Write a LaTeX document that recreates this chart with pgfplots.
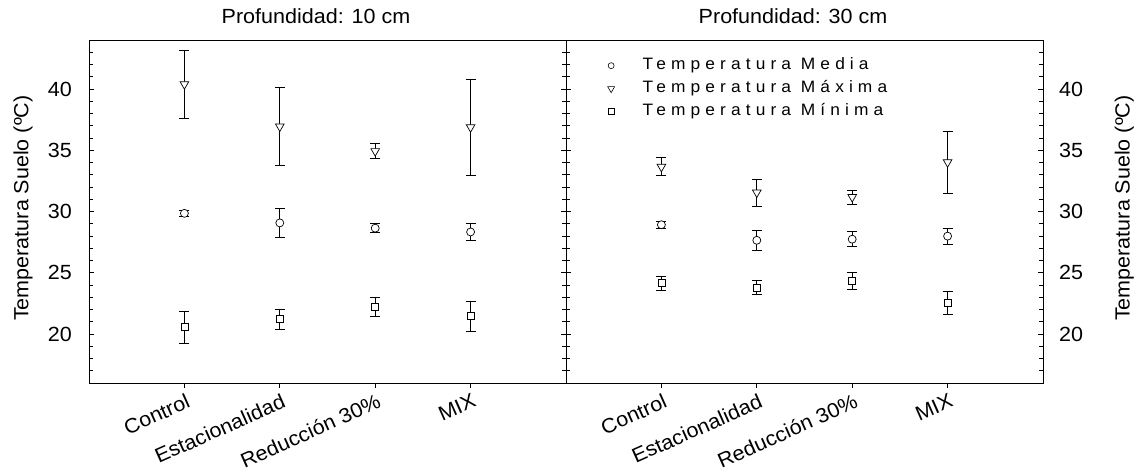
\documentclass[border=0pt]{standalone}
\usepackage{fontspec}
\setmainfont{Liberation Sans}[FakeStretch=1.05]
\newfontfamily\legfont{Liberation Sans}[LetterSpace=31,FakeStretch=1.05]
\usepackage{pgfplots}
\pgfplotsset{compat=1.18}
\usepackage{pgfplotstable}

\pgfplotstableread{
x y e
1 40.39 2.77
2 36.94 3.16
3 34.93 0.60
4 36.88 3.94
}\LMax
\pgfplotstableread{
x y e
1 29.85 0.25
2 29.07 1.22
3 28.64 0.35
4 28.33 0.67
}\LMed
\pgfplotstableread{
x y e
1 20.55 1.30
2 21.21 0.80
3 22.18 0.78
4 21.45 1.21
}\LMin
\pgfplotstableread{
x y e
1 33.65 0.73
2 31.55 1.11
3 31.18 0.57
4 34.02 2.54
}\RMax
\pgfplotstableread{
x y e
1 28.92 0.27
2 27.65 0.82
3 27.74 0.61
4 27.99 0.67
}\RMed
\pgfplotstableread{
x y e
1 24.15 0.58
2 23.79 0.58
3 24.34 0.70
4 22.55 0.94
}\RMin

\newcommand{\bigf}{\fontsize{20.5}{24}\selectfont}

\pgfplotsset{
 panel/.style={
  scale only axis, width=477pt, height=343pt,
  xmin=0, xmax=5, ymin=16, ymax=44,
  xtick={1,2,3,4}, xticklabels={Control,Estacionalidad,Reducción 30\%,MIX},
  ytick={20,25,30,35,40},
  minor ytick={17,18,19,21,22,23,24,26,27,28,29,31,32,33,34,36,37,38,39,41,42,43},
  xtick pos=bottom, ytick pos=both,
  xtick align=outside, ytick align=inside,
  major tick length=5pt, minor tick length=4pt,
  tick style={black, line width=0.7pt},
  axis line style={black, line width=0.8pt},
  tick label style={font=\bigf},
  /pgf/number format/assume math mode=true,
  xticklabel style={xshift=1pt, yshift=-5pt, rotate=24, anchor=north east, inner sep=0pt},
  title style={font=\bigf, at={(axis description cs:0.476,1)}, anchor=base, yshift=10.3pt},
  label style={font=\bigf},
 },
 ser/.style={only marks, black,
   error bars/y dir=both, error bars/y explicit,
   error bars/error mark=|,
   error bars/error bar style={black, line width=0.8pt},
   error bars/error mark options={black, mark size=5pt, line width=0.8pt}},
}

\begin{document}
\begin{tikzpicture}
\useasboundingbox (0,0) rectangle (1136pt,472pt);

\begin{axis}[panel, at={(89pt,89pt)}, anchor=south west,
  title={Profundidad: 10 cm},
  ylabel={Temperatura Suelo (ºC)},
  every axis y label/.style={at={(axis description cs:-0.1384,0.51)}, rotate=90, anchor=center, font=\bigf},
  yticklabel style={anchor=east, inner sep=0pt, xshift=-17pt},
]
\addplot[ser, mark=triangle*, mark size=5pt, mark options={fill=white, line width=0.7pt, rotate=180}] table[x=x,y=y,y error=e]{\LMax};
\addplot[ser, mark=*, mark size=4pt, mark options={fill=white, line width=0.7pt}] table[x=x,y=y,y error=e]{\LMed};
\addplot[ser, mark=square*, mark size=3.5pt, mark options={fill=white, line width=0.7pt}] table[x=x,y=y,y error=e]{\LMin};
\end{axis}

\begin{axis}[panel, at={(566pt,89pt)}, anchor=south west,
  title={Profundidad: 30 cm},
  ylabel={Temperatura Suelo (ºC)},
  every axis y label/.style={at={(axis description cs:1.1707,0.51)}, rotate=90, anchor=center, font=\bigf},
  yticklabel pos=right,
  yticklabel style={anchor=west, inner sep=0pt, xshift=16pt},
  legend image code/.code={\draw[#1] plot coordinates {(0pt,0pt)};},
  legend cell align=left,
  legend style={draw=none, fill=none, inner sep=0pt,
    at={(axis description cs:0.087,0.9484)}, anchor=north west,
    font=\legfont\fontsize{16.5}{19}\selectfont,
    row sep=7.5pt, column sep=28pt,
    nodes={inner sep=0pt, text height=12pt, text depth=3.5pt}},
]
\addlegendimage{only marks, black, mark=*, mark size=3pt, mark options={fill=white, line width=0.6pt}}
\addlegendentry{Temperatura Media}
\addlegendimage{only marks, black, mark=triangle*, mark size=4pt, mark options={fill=white, line width=0.6pt, rotate=180}}
\addlegendentry{Temperatura Máxima}
\addlegendimage{only marks, black, mark=square*, mark size=3pt, mark options={fill=white, line width=0.6pt}}
\addlegendentry{Temperatura Mínima}
\addplot[ser, forget plot, mark=triangle*, mark size=5pt, mark options={fill=white, line width=0.7pt, rotate=180}] table[x=x,y=y,y error=e]{\RMax};
\addplot[ser, forget plot, mark=*, mark size=4pt, mark options={fill=white, line width=0.7pt}] table[x=x,y=y,y error=e]{\RMed};
\addplot[ser, forget plot, mark=square*, mark size=3.5pt, mark options={fill=white, line width=0.7pt}] table[x=x,y=y,y error=e]{\RMin};
\end{axis}
\end{tikzpicture}
\end{document}
